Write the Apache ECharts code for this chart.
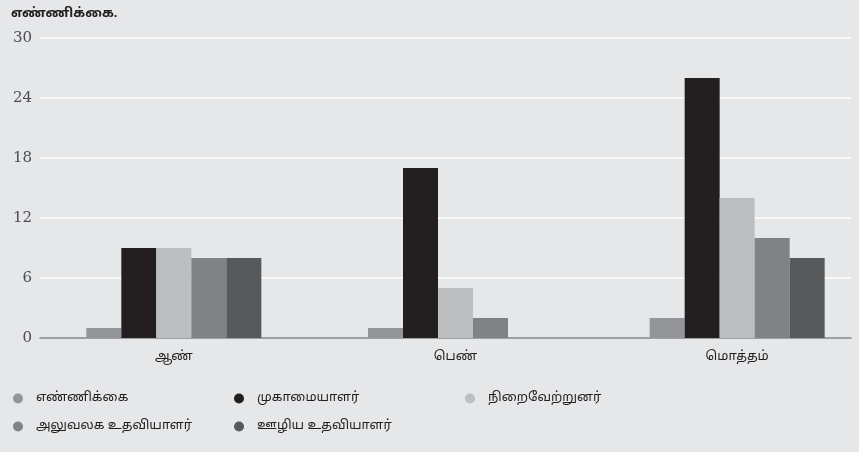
<!DOCTYPE html>
<html>
<head>
<meta charset="utf-8">
<script src="https://cdn.jsdelivr.net/npm/echarts@6/dist/echarts.min.js"></script>
<style>
  html, body { margin: 0; padding: 0; background: #e6e7e8; }
  #main { width: 859px; height: 452px; }
</style>
</head>
<body>
<div id="main"></div>
<script>
// data
const categories = ['ஆண்', 'பெண்', 'மொத்தம்'];
const seriesNames = ['எண்ணிக்கை', 'முகாமையாளர்', 'நிறைவேற்றுனர்', 'அலுவலக உதவியாளர்', 'ஊழிய உதவியாளர்'];
const countVals = [1, 1, 2];
const managerVals = [9, 17, 26];
const executorVals = [9, 5, 14];
const officeAsstVals = [8, 2, 10];
const staffAsstVals = [8, null, 8];
const yTicks = [0, 6, 12, 18, 24, 30];

const colors = ['#939598', '#231f20', '#bcbec0', '#808285', '#58595b'];
const allVals = [countVals, managerVals, executorVals, officeAsstVals, staffAsstVals];

const tamilFont = 'Noto Sans Tamil, Lohit Tamil, Noto Sans, sans-serif';
const chart = echarts.init(document.getElementById('main'));

// legend split in columns so the spacing matches the picture
function legendBlock(left, names) {
  return {
    orient: 'vertical', left: left, top: 385,
    icon: 'circle', itemWidth: 10, itemHeight: 10, itemGap: 11,
    textStyle: { padding: [0, 0, 0, 8], color: '#231f20', fontSize: 13, lineHeight: 17, fontFamily: tamilFont },
    data: names, selectedMode: false
  };
}

const option = {
  backgroundColor: '#e6e7e8',
  animation: false,
  title: {
    text: 'எண்ணிக்கை.', left: 6, top: 3,
    textStyle: { fontSize: 13, fontWeight: 'bold', color: '#231f20', fontFamily: tamilFont }
  },
  legend: [
    legendBlock(8, [seriesNames[0], seriesNames[3]]),
    legendBlock(229, [seriesNames[1], seriesNames[4]]),
    legendBlock(460, [seriesNames[2]])
  ],
  grid: [
    { left: 40, right: 8, top: 38, height: 300 },
    { left: 33, width: 845, top: 38, height: 300, outerBoundsMode: 'none' }
  ],
  xAxis: [
    {
      gridIndex: 0, type: 'category', data: categories,
      axisLine: { lineStyle: { color: '#808285', width: 1.5 } },
      axisTick: { show: false }, axisLabel: { show: false }
    },
    {
      gridIndex: 1, type: 'category', data: categories,
      axisLine: { show: false }, axisTick: { show: false },
      axisLabel: { margin: 13, fontSize: 13, color: '#231f20', fontFamily: tamilFont }
    }
  ],
  yAxis: [
    {
      gridIndex: 0, type: 'value', min: yTicks[0], max: yTicks[yTicks.length - 1], interval: 6,
      axisLine: { show: false }, axisTick: { show: false },
      axisLabel: { margin: 8, fontSize: 15, color: '#4d4d4f', fontFamily: 'DejaVu Serif, serif' },
      splitLine: { lineStyle: { color: '#ffffff', width: 1.5 } }
    },
    {
      gridIndex: 1, type: 'value', min: yTicks[0], max: yTicks[yTicks.length - 1], interval: 6,
      show: false, splitLine: { show: false }
    }
  ],
  series: seriesNames.map((name, i) => ({
    name: name, type: 'bar', xAxisIndex: 1, yAxisIndex: 1,
    data: allVals[i], barWidth: 35, barGap: '0%',
    itemStyle: { color: colors[i] }
  }))
};

chart.setOption(option);
</script>
</body>
</html>
